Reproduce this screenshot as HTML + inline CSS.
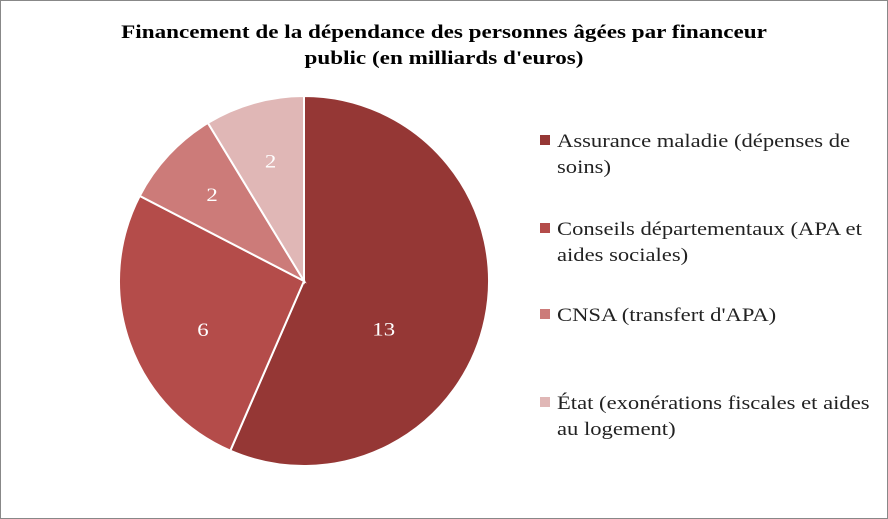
<!DOCTYPE html>
<html><head><meta charset="utf-8"><style>
body{margin:0;background:#fff;}
svg{display:block;font-family:"Liberation Serif",serif;}
</style></head><body>
<svg width="888" height="519" viewBox="0 0 888 519">
<rect x="0.5" y="0.5" width="887" height="518" fill="#fff" stroke="#888"/>
<g transform="translate(444,38) scale(1.25,1)"><text x="0" y="0" text-anchor="middle" font-weight="bold" font-size="18.5">Financement de la dépendance des personnes âgées par financeur</text></g>
<g transform="translate(444,64) scale(1.25,1)"><text x="0" y="0" text-anchor="middle" font-weight="bold" font-size="18.5">public (en milliards d'euros)</text></g>
<g id="slices"></g>
<g id="labels"></g>
<g id="legend"></g>
</svg>
<script>
const categories = ["Assurance maladie (dépenses de|soins)", "Conseils départementaux (APA et|aides sociales)", "CNSA (transfert d'APA)", "État (exonérations fiscales et aides|au logement)"];
const values = [13, 6, 2, 2];
const colors = ["#953735", "#b44c4a", "#cc7b79", "#e0b7b6"];
const labelRadius = [0.44, 0.58, 0.68, 0.67];
const labelDy = [32, 13, 0, 0];
const legendY = [140, 228, 314, 402];
const cx = 304, cy = 281, r = 185;
const ns = "http://www.w3.org/2000/svg";
const total = values.reduce((a, b) => a + b, 0);
const pt = (a, rr) => [cx + rr * Math.sin(a), cy - rr * Math.cos(a)];
let a0 = 0;
const sg = document.getElementById('slices'), lg = document.getElementById('labels'), leg = document.getElementById('legend');
values.forEach((v, i) => {
  const a1 = a0 + v / total * 2 * Math.PI;
  const [x0, y0] = pt(a0, r), [x1, y1] = pt(a1, r);
  const p = document.createElementNS(ns, 'path');
  p.setAttribute('d', `M${cx},${cy} L${x0},${y0} A${r},${r} 0 ${a1 - a0 > Math.PI ? 1 : 0} 1 ${x1},${y1} Z`);
  p.setAttribute('fill', colors[i]);
  p.setAttribute('stroke', '#fff');
  p.setAttribute('stroke-width', '2');
  
  
  sg.appendChild(p);
  const [lx, ly] = pt((a0 + a1) / 2, r * labelRadius[i]);
  const tg = document.createElementNS(ns, 'g');
  tg.setAttribute('transform', `translate(${lx},${ly + 6 + labelDy[i]}) scale(1.2,1)`);
  const t = document.createElementNS(ns, 'text');
  t.setAttribute('x', 0); t.setAttribute('y', 0);
  t.setAttribute('text-anchor', 'middle'); t.setAttribute('font-size', '19'); t.setAttribute('fill', '#fff');
  t.textContent = values[i];
  
  
  tg.appendChild(t);
  lg.appendChild(tg);
  const sq = document.createElementNS(ns, 'rect');
  sq.setAttribute('x', 540); sq.setAttribute('y', legendY[i] - 5); sq.setAttribute('width', 10); sq.setAttribute('height', 10);
  sq.setAttribute('fill', colors[i]);
  
  
  leg.appendChild(sq);
  categories[i].split('|').forEach((line, j) => {
    const g = document.createElementNS(ns, 'g');
    g.setAttribute('transform', `translate(557,${legendY[i] + 7 + j * 26}) scale(1.19,1)`);
    const lt = document.createElementNS(ns, 'text');
    lt.setAttribute('x', 0); lt.setAttribute('y', 0);
    lt.setAttribute('font-size', '19'); lt.setAttribute('fill', '#222');
    lt.textContent = line;
    
    
    g.appendChild(lt);
    leg.appendChild(g);
  });
  a0 = a1;
});
</script>
</body></html>
